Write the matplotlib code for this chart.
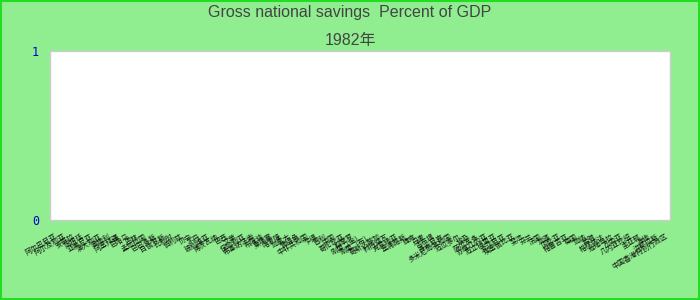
import numpy as np
import matplotlib.pyplot as plt
from matplotlib.patches import Rectangle

# 国家/地区（横轴类别）
countries = [
    "阿尔巴尼亚", "阿尔及利亚", "安哥拉", "阿根廷", "亚美尼亚", "澳大利亚", "奥地利", "阿塞拜疆",
    "巴哈马", "巴林", "孟加拉国", "巴巴多斯", "白俄罗斯", "比利时", "伯利兹", "贝宁",
    "不丹", "玻利维亚", "博茨瓦纳", "巴西", "文莱", "保加利亚", "布基纳法索", "布隆迪",
    "柬埔寨", "喀麦隆", "加拿大", "佛得角", "中非共和国", "乍得", "智利", "中国",
    "哥伦比亚", "科摩罗", "刚果（金）", "刚果（布）", "哥斯达黎加", "科特迪瓦", "克罗地亚", "塞浦路斯",
    "捷克", "丹麦", "吉布提", "多米尼克", "多米尼加共和国", "厄瓜多尔", "埃及", "萨尔瓦多",
    "赤道几内亚", "厄立特里亚", "爱沙尼亚", "埃塞俄比亚", "斐济", "芬兰", "法国", "加蓬",
    "冈比亚", "格鲁吉亚", "德国", "加纳", "希腊", "格林纳达", "危地马拉", "几内亚",
    "几内亚比绍", "圭亚那", "海地", "洪都拉斯", "中国香港特别行政区",
]
# 1982年数据缺失
savings = [np.nan] * len(countries)

title_line1 = "Gross national savings  Percent of GDP"
title_line2 = "1982年"

fig = plt.figure(figsize=(7, 3), dpi=100, facecolor="#90ee90")
ax = fig.add_axes([50 / 700, 1 - 220 / 300, 620 / 700, 169 / 300])
ax.set_facecolor("white")

x = np.arange(len(countries))
ax.bar(x, savings, width=0.8, color="#4472c4")
ax.set_xlim(-0.5, len(countries) - 0.5)
ax.set_ylim(0, 1)
ax.set_yticks([0, 1])
ax.set_yticklabels(["0", "1"], color="#0000cc", fontsize=8.5, family="DejaVu Sans Mono")
ax.tick_params(axis="y", length=0, pad=8)

ax.set_xticks(x)
ax.set_xticklabels(countries, rotation=30, ha="right", rotation_mode="anchor",
                   fontsize=5, color="#111111",
                   family=["Noto Sans CJK SC", "DejaVu Sans"])
ax.tick_params(axis="x", length=0, pad=9)

for sp in ax.spines.values():
    sp.set_color("#cccccc")
    sp.set_linewidth(1)

fig.text(0.5, 1 - 13 / 300, title_line1, ha="center", va="center",
         fontsize=11.5, color="#444444", family="Liberation Sans")
fig.text(0.5, 1 - 40 / 300, title_line2, ha="center", va="center",
         fontsize=11.5, color="#444444", family=["Liberation Sans", "Noto Sans CJK SC"])

fig.patches.append(Rectangle((0.001, 0.002), 0.998, 0.995, transform=fig.transFigure,
                             fill=False, edgecolor="#22dd22", linewidth=1.5))

fig.savefig("out.png", dpi=100, facecolor=fig.get_facecolor())
